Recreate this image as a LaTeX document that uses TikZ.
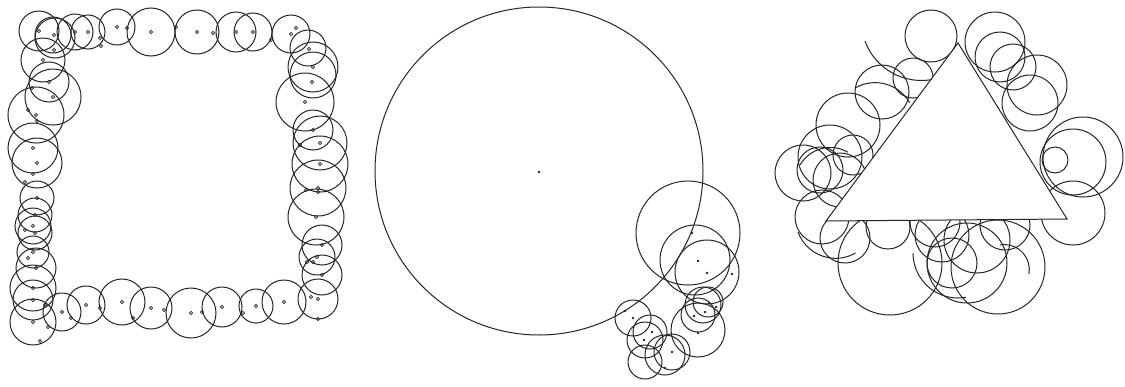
\documentclass[tikz,border=0pt]{standalone}
\begin{document}
\begin{tikzpicture}[x=1pt,y=-1pt,line width=1pt,
  ring/.style={draw=black!85},
  hmark/.style={draw=black!85,line width=0.8pt},
  dmark/.style={fill=black!85}]
\useasboundingbox[fill=white] (0,0) rectangle (1125,386);
% ---------- panel 1: square of circles ----------
\foreach \x/\y/\r in {
  39/31/20, 53/35/18, 55/38/20, 75/32/18, 88/32/17, 117/27/18, 151/32/24, 197/32/22,
  236/32/20, 253/32/19, 291/34/19,
  308/48/18, 313/67/25, 313/75/23, 305/102/29, 313/130/20, 320/143/27, 320/164/28,
  318/188/28, 316/217/28, 322/245/20, 317/257/18, 322/275/20, 318/299/20,
  284/302/22, 256/306/17, 222/307/20, 191/313/25, 151/308/21, 122/302/23, 86/305/19,
  62/312/19, 33/322/23,
  33/300/20, 33/288/23, 36/268/20, 33/252/16, 35/233/17, 33/226/18, 35/215/17,
  37/198/17, 37/163/25, 33/148/25, 36/115/28, 53/97/28, 49/82/20, 43/60/22}
  \draw[ring] (\x,\y) circle[radius=\r pt];
\foreach \x/\y in {
  39/31, 54/35, 75/32, 88/32, 117/27, 151/32, 197/32, 236/32, 253/32, 291/34,
  309/49, 313/67, 305/102, 313/130, 320/143, 320/164, 318/188, 316/217, 322/245,
  317/257, 322/275, 318/299, 284/302, 256/306, 222/307, 191/313, 151/308, 122/302,
  86/305, 62/312, 33/322, 33/300, 33/288, 36/268, 33/252, 35/233, 33/226, 35/215,
  37/198, 37/163, 33/148, 36/115, 53/97, 49/82, 43/60,
  100/38, 127/28, 176/27, 213/33, 271/40, 296/28, 312/82, 300/145, 306/190,
  318/192, 307/262, 313/262, 311/297, 318/319, 243/313, 202/312, 164/310,
  133/318, 100/308, 71/318, 48/327, 40/341, 45/305, 28/258, 25/230, 25/182,
  33/174, 28/110, 37/121, 32/88, 54/50, 101/46}
  \draw[hmark] (\x,\y) circle[radius=1.6pt];
% ---------- panel 2: big circle with small ones ----------
\draw[ring] (539,171) circle[radius=164pt];
\fill[dmark] (539,172) circle[radius=1.4pt];
\foreach \x/\y/\r in {
  688/233/52, 695/260/35, 707/272/32, 708/302/15, 703/305/18, 698/315/17,
  698/330/27, 633/318/18, 650/332/17, 645/340/18, 672/352/18, 665/355/20,
  645/362/17}
  \draw[ring] (\x,\y) circle[radius=\r pt];
\foreach \x/\y in {
  698/261, 707/273, 692/233, 633/318, 652/332, 644/340, 672/352, 694/316,
  698/333, 709/303, 732/274, 625/311, 665/368, 716/307, 705/312}
  \fill[dmark] (\x,\y) circle[radius=1.4pt];
% ---------- panel 3: triangle with circles ----------
\foreach \x/\y/\r in {
  931/36/26, 995/42/30, 1000/57/25, 1013/67/23, 1037/85/30, 1030/103/28,
  913/78/20, 882/92/27, 848/125/32, 853/155/20, 830/157/32, 820/170/23,
  803/173/28, 822/217/27, 845/238/25, 890/263/52, 888/227/22, 942/235/27,
  952/263/25, 967/263/40, 977/240/33, 998/267/47, 1073/213/32, 1083/157/40,
  1073/162/33, 1055/160/13, 935/222/25, 1005/225/25, 840/180/27}
  \draw[ring] (\x,\y) circle[radius=\r pt];
\draw[ring] (865,41) arc[start angle=200,end angle=290,radius=60pt];
\draw[ring] (798,232) arc[start angle=200,end angle=300,radius=40pt];
\draw[ring] (913,253) arc[start angle=180,end angle=280,radius=45pt];
\draw[ring] (855,88) arc[start angle=120,end angle=30,radius=40pt];
\draw[ring] (800,165) arc[start angle=150,end angle=60,radius=35pt];
\draw[ring] (1000,245) arc[start angle=100,end angle=-10,radius=25pt];
\fill[white,draw=black!85] (958,43) -- (826,221) -- (1067,219) -- cycle;
\end{tikzpicture}
\end{document}
